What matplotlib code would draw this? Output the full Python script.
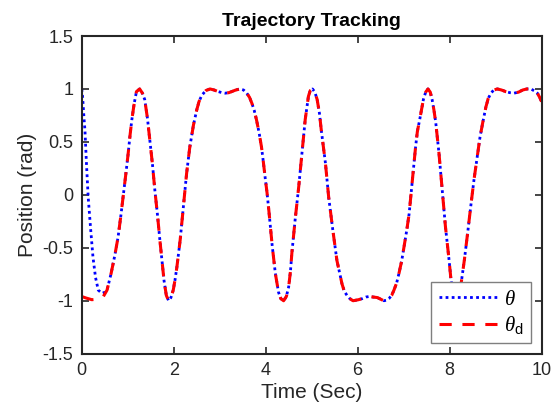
import numpy as np
import matplotlib
matplotlib.use('Agg')
import matplotlib.pyplot as plt

plt.rcParams['font.family'] = ['Liberation Sans', 'DejaVu Sans']
plt.rcParams['mathtext.fontset'] = 'custom'
plt.rcParams['mathtext.it'] = 'Liberation Serif:italic'
plt.rcParams['mathtext.rm'] = 'Liberation Sans'
plt.rcParams['mathtext.sf'] = 'Liberation Sans'

# desired trajectory theta_d
t_d = [0.00, 0.10, 0.22, 0.35, 0.47, 0.55, 0.64, 0.72, 0.79, 0.85, 0.90, 0.96,
       1.01, 1.05, 1.09, 1.14, 1.19, 1.26, 1.32, 1.37, 1.43, 1.48, 1.54, 1.59,
       1.65, 1.70, 1.75, 1.79, 1.84, 1.89, 1.94, 1.99, 2.03, 2.07, 2.14, 2.21,
       2.28, 2.35, 2.43, 2.50, 2.55, 2.61, 2.70, 2.79, 2.88, 2.97, 3.05, 3.12,
       3.20, 3.26, 3.35, 3.44, 3.52, 3.59, 3.65, 3.70, 3.75, 3.80, 3.86, 3.91,
       3.95, 3.99, 4.03, 4.07, 4.14, 4.21, 4.28, 4.33, 4.39, 4.45, 4.50, 4.54,
       4.57, 4.64, 4.72, 4.79, 4.86, 4.93, 4.97, 5.02, 5.07, 5.12, 5.17, 5.21,
       5.30, 5.37, 5.46, 5.55, 5.66, 5.71, 5.77, 5.83, 5.90, 6.02, 6.10, 6.18,
       6.25, 6.34, 6.43, 6.50, 6.57, 6.63, 6.68, 6.74, 6.79, 6.85, 6.90, 6.96,
       7.01, 7.07, 7.12, 7.19, 7.26, 7.30, 7.35, 7.43, 7.48, 7.53, 7.58, 7.62,
       7.66, 7.70, 7.77, 7.84, 7.91, 7.99, 8.03, 8.06, 8.10, 8.15, 8.20, 8.25,
       8.32, 8.39, 8.46, 8.53, 8.61, 8.66, 8.72, 8.79, 8.84, 8.90, 8.96, 9.04,
       9.13, 9.22, 9.31, 9.40, 9.50, 9.59, 9.68, 9.77, 9.85, 9.91, 9.96, 10.00]
theta_d = [-0.96, -0.975, -0.99, -0.985, -0.96, -0.90, -0.74, -0.57, -0.40, -0.20, -0.02, 0.20,
           0.39, 0.56, 0.71, 0.86, 0.975, 1.00, 0.96, 0.90, 0.72, 0.52, 0.28, 0.045,
           -0.20, -0.43, -0.64, -0.81, -0.95, -1.00, -0.97, -0.90, -0.80, -0.68, -0.43, -0.11,
           0.20, 0.45, 0.66, 0.80, 0.88, 0.94, 0.985, 1.00, 0.99, 0.975, 0.965, 0.96,
           0.965, 0.975, 0.99, 1.00, 0.99, 0.96, 0.92, 0.865, 0.80, 0.71, 0.58, 0.45,
           0.31, 0.16, 0.02, -0.15, -0.47, -0.74, -0.92, -0.98, -1.00, -0.96, -0.87, -0.72,
           -0.55, -0.24, 0.08, 0.39, 0.71, 0.93, 0.985, 1.00, 0.97, 0.90, 0.77, 0.61,
           0.30, -0.02, -0.33, -0.62, -0.84, -0.91, -0.95, -0.98, -1.00, -0.99, -0.98, -0.965,
           -0.96, -0.965, -0.97, -0.985, -1.00, -0.995, -0.98, -0.95, -0.90, -0.83, -0.74, -0.62,
           -0.49, -0.33, -0.18, 0.14, 0.45, 0.60, 0.71, 0.90, 0.97, 1.00, 0.97, 0.90,
           0.80, 0.68, 0.39, 0.045, -0.30, -0.62, -0.80, -0.88, -0.96, -1.00, -0.96, -0.84,
           -0.62, -0.37, -0.11, 0.14, 0.39, 0.54, 0.68, 0.83, 0.91, 0.96, 0.99, 1.00,
           0.99, 0.975, 0.965, 0.96, 0.97, 0.99, 1.00, 1.00, 0.98, 0.96, 0.92, 0.88]

# actual response: initial transient, then follows theta_d
t_start = [0.00, 0.02, 0.05, 0.07, 0.10, 0.14, 0.195, 0.245, 0.30, 0.36, 0.44, 0.50]
theta_start = [1.00, 0.92, 0.72, 0.61, 0.32, -0.02, -0.33, -0.59, -0.78, -0.90, -0.93, -0.92]

k = t_d.index(0.55)
t = t_start + t_d[k:]
theta = theta_start + theta_d[k:]

fig = plt.figure(figsize=(5.56, 4.12), dpi=100)
ax = fig.add_axes([0.147, 0.1415, 0.827, 0.7711])

ax.plot(t, theta, color='blue', linestyle=(0, (1, 1.2)), linewidth=2.0, label=r'$\theta$')
ax.plot(t_d, theta_d, color='red', linestyle=(0, (4, 3.5)), linewidth=2.2,
        label=r'$\theta_{\mathrm{d}}$')

ax.set_xlim(0, 10)
ax.set_ylim(-1.5, 1.5)
ax.set_xticks([0, 2, 4, 6, 8, 10])
ax.set_yticks([-1.5, -1, -0.5, 0, 0.5, 1, 1.5])
ax.set_yticklabels(['-1.5', '-1', '-0.5', '0', '0.5', '1', '1.5'])
ax.tick_params(direction='in', top=True, right=True, length=5, width=1.2,
               labelsize=13, colors='#262626', pad=6)
for s in ax.spines.values():
    s.set_linewidth(1.5)
    s.set_color('#262626')

ax.set_xlabel('Time (Sec)', fontsize=15, color='#262626', labelpad=3)
ax.set_ylabel('Position (rad)', fontsize=15, color='#262626', labelpad=4)
ax.set_title('Trajectory Tracking', fontsize=14, fontweight='bold', pad=7)

leg = ax.legend(loc='lower right', fontsize=15, handlelength=2.8, fancybox=False,
                framealpha=1, edgecolor='#7f7f7f', borderaxespad=0.5,
                labelspacing=0.25, handletextpad=0.35, borderpad=0.35)
leg.get_frame().set_linewidth(1.0)

fig.savefig('out.png', dpi=100)
